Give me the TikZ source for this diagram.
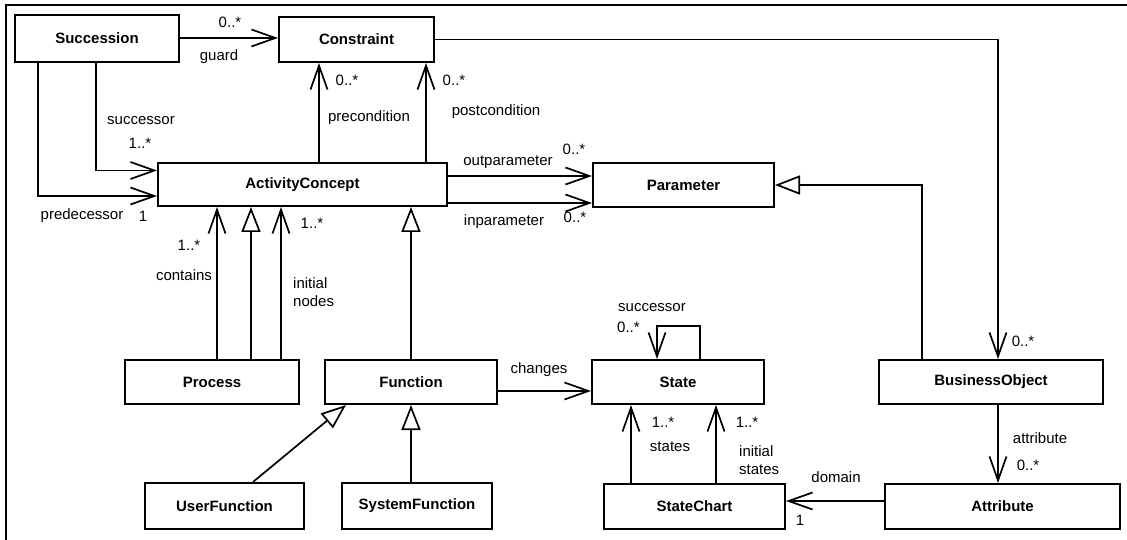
\documentclass[tikz,border=0pt]{standalone}
\usepackage{fontspec}
\setmainfont{Liberation Sans}
\usetikzlibrary{arrows.meta}
\begin{document}
\begin{tikzpicture}[x=1pt,y=-1pt,
  cls/.style={draw, line width=2pt, fill=white, font=\fontsize{15}{18}\selectfont\bfseries, inner sep=0pt, anchor=north west},
  lbl/.style={font=\fontsize{15}{18}\selectfont, inner sep=0pt},
  conn/.style={line width=1.7pt},
  assoc/.style={conn, -{Straight Barb[length=24pt,width=17pt,line width=1.7pt]}},
  gen/.style={conn, -{Triangle[open,length=25pt,width=19pt,fill=white,line width=1.7pt]}}]
\useasboundingbox (0,0) rectangle (1127,540);
\draw[line width=2.2pt] (6,540) -- (6,5) -- (1127,5);

% classes
\node[cls, minimum width=164pt, minimum height=47pt] (succ) at (14,14) {Succession};
\node[cls, minimum width=155pt, minimum height=45pt] (cons) at (278,16) {Constraint};
\node[cls, minimum width=289pt, minimum height=43pt] (ac) at (157,162) {ActivityConcept};
\node[cls, minimum width=181pt, minimum height=44pt] (param) at (592,162) {Parameter};
\node[cls, minimum width=174pt, minimum height=44pt] (proc) at (124,359) {Process};
\node[cls, minimum width=172pt, minimum height=44pt] (func) at (324,359) {Function};
\node[cls, minimum width=172pt, minimum height=44pt] (state) at (591,359) {State};
\node[cls, minimum width=224pt, minimum height=44pt] (bo) at (878,359) {BusinessObject};
\node[cls, minimum width=159pt, minimum height=46pt] (uf) at (144,482) {UserFunction};
\node[cls, minimum width=150pt, minimum height=46pt] (sf) at (341,482) {SystemFunction};
\node[cls, minimum width=181pt, minimum height=45pt] (sc) at (603,483) {StateChart};
\node[cls, minimum width=235pt, minimum height=45pt] (attr) at (884,483) {Attribute};

% anchor coordinates
\coordinate (sg) at ([yshift=0.5pt]succ.east);
\coordinate (sx1) at ([xshift=82pt]succ.south west);
\coordinate (sx2) at ([xshift=24pt]succ.south west);
\coordinate (acs) at ([yshift=14pt]ac.west);
\coordinate (acp) at ([yshift=-11.5pt]ac.west);
\coordinate (pre) at ([xshift=162pt]ac.north west);
\coordinate (post) at ([xshift=269pt]ac.north west);
\coordinate (outp) at ([yshift=8.5pt]ac.east);
\coordinate (inp) at ([yshift=-18.5pt]ac.east);
\coordinate (ct) at ([xshift=93pt]proc.north west);
\coordinate (pg) at ([xshift=127pt]proc.north west);
\coordinate (in) at ([xshift=157pt]proc.north west);
\coordinate (ch) at ([yshift=-9pt]func.east);
\coordinate (sl1) at ([xshift=109pt]state.north west);
\coordinate (sl2) at ([xshift=66pt]state.north west);
\coordinate (st1) at ([xshift=28pt]sc.north west);
\coordinate (st2) at ([xshift=113pt]sc.north west);
\coordinate (dm) at ([yshift=5.5pt]attr.west);
\coordinate (boa) at ([xshift=7pt]bo.south);
\coordinate (bot) at ([xshift=7pt]bo.north);
\coordinate (bog) at ([xshift=-69pt]bo.north);

% connectors
\draw[assoc] (sg) -- (sg -| cons.west);
\draw[assoc] (cons.east) -| (bot);
\draw[assoc] (sx1) |- (acs);
\draw[assoc] (sx2) |- (acp);
\draw[assoc] (pre) -- (pre |- cons.south);
\draw[assoc] (post) -- (post |- cons.south);
\draw[assoc] (outp) -- (outp -| param.west);
\draw[assoc] (inp) -- (inp -| param.west);
\draw[assoc] (ct) -- (ct |- ac.south);
\draw[gen] (pg) -- (pg |- ac.south);
\draw[assoc] (in) -- (in |- ac.south);
\draw[gen] (func.north) -- (func.north |- ac.south);
\draw[gen] (func.south |- sf.north) -- (func.south);
\draw[gen] ([xshift=28.5pt]uf.north) -- ([xshift=22pt]func.south west);
\draw[assoc] (ch) -- (ch -| state.west);
\draw[assoc] (sl1) -- ++(0,-33) -| (sl2);
\draw[assoc] (st1) -- (st1 |- state.south);
\draw[assoc] (st2) -- (st2 |- state.south);
\draw[assoc] (dm) -- (dm -| sc.east);
\draw[assoc] (boa) -- (boa |- attr.north);
\draw[gen] (bog) |- (param.east);

% labels
\node[lbl] (l1) at (230,22) {0..*};
\node[lbl] (l2) at (219,57) {guard};
\node[lbl] (l3) at (347,80) {0..*};
\node[lbl] (l4) at (454,80) {0..*};
\node[lbl] (l5) at (369,118) {precondition};
\node[lbl] (l6) at (496,112) {postcondition};
\node[lbl] (l7) at (141,121) {successor};
\node[lbl] (l8) at (140,143) {1..*};
\node[lbl] (l9) at (82,216) {predecessor};
\node[lbl] (l10) at (143,216) {1};
\node[lbl] (l11) at (508,162) {outparameter};
\node[lbl] (l12) at (574,149) {0..*};
\node[lbl] (l13) at (504,222) {inparameter};
\node[lbl] (l14) at (575,217) {0..*};
\node[lbl] (l15) at (189,245) {1..*};
\node[lbl] (l16) at (184,275) {contains};
\node[lbl] (l17) at (312,223) {1..*};
\node[lbl, anchor=west, align=left] (l18) at (293,292) {initial\\nodes};
\node[lbl] (l19) at (539,370) {changes};
\node[lbl] (l20) at (652,308) {successor};
\node[lbl, anchor=west] (l21) at (617,327) {0..*};
\node[lbl] (l22) at (663,422) {1..*};
\node[lbl] (l23) at (670,447) {states};
\node[lbl] (l24) at (747,422) {1..*};
\node[lbl, anchor=west, align=left] (l25) at (739,460) {initial\\states};
\node[lbl] (l26) at (836,477) {domain};
\node[lbl] (l27) at (800,520) {1};
\node[lbl] (l28) at (1040,438) {attribute};
\node[lbl] (l29) at (1028,465) {0..*};
\node[lbl] (l30) at (1023,341) {0..*};
\end{tikzpicture}
\end{document}
